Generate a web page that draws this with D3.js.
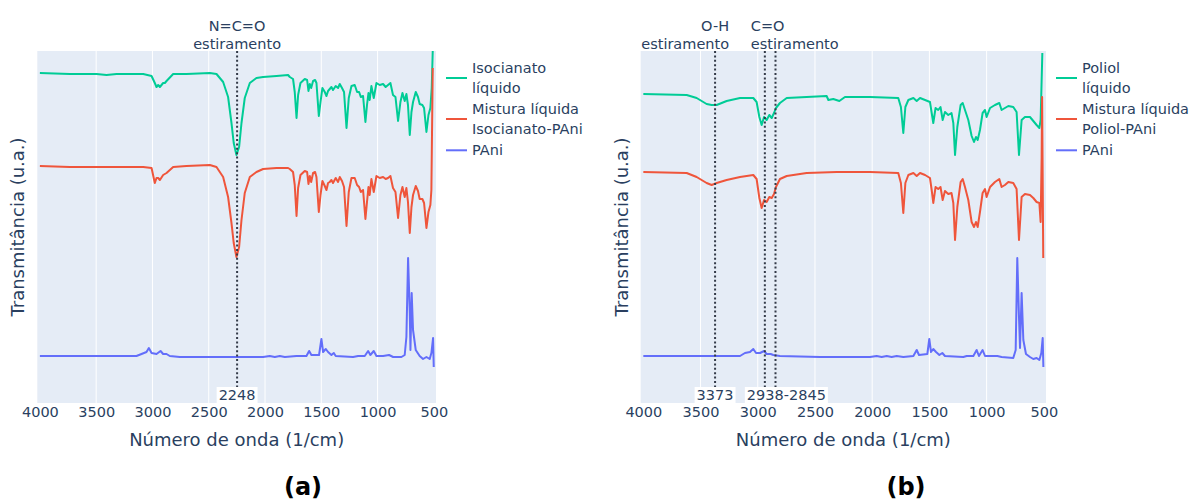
<!DOCTYPE html>
<html>
<head>
<meta charset="utf-8">
<script src="https://cdn.jsdelivr.net/npm/d3@7"></script>
<style>
  html, body { margin: 0; padding: 0; background: #fff; }
  svg { display: block; }
</style>
</head>
<body>
<svg id="chart" width="1190" height="503"></svg>
<script>
// FTIR spectra: wavenumber (1/cm) and transmittance (arbitrary units, stacked offsets)

// (a) Isocyanate system
const isoLiquid = [
  [4000,3.30],[3734,3.29],[3497,3.29],[3408,3.28],[3319,3.29],[3082,3.29],[3008,3.27],[2979,3.20],
  [2964,3.16],[2949,3.18],[2934,3.16],[2905,3.20],[2890,3.20],[2875,3.22],[2816,3.29],[2698,3.29],
  [2490,3.30],[2431,3.29],[2372,3.21],[2328,3.06],[2298,2.80],[2278,2.60],[2254,2.48],[2230,2.56],
  [2209,2.80],[2180,3.05],[2135,3.20],[2076,3.25],[2017,3.26],[1898,3.27],[1795,3.28],[1780,3.26],
  [1751,3.24],[1736,3.11],[1720,2.85],[1706,3.08],[1685,3.20],[1647,3.24],[1626,3.23],[1614,3.12],
  [1602,3.19],[1590,3.15],[1573,3.22],[1555,3.23],[1543,3.20],[1522,2.87],[1507,3.01],[1490,3.15],
  [1469,3.11],[1454,3.07],[1440,3.12],[1425,3.14],[1410,3.16],[1396,3.13],[1372,3.17],[1351,3.15],
  [1336,3.19],[1316,3.15],[1298,3.11],[1276,2.75],[1256,3.05],[1232,3.17],[1203,3.18],[1182,3.11],
  [1164,3.11],[1149,3.06],[1129,3.07],[1108,2.81],[1094,2.98],[1081,3.10],[1070,3.03],[1055,3.17],
  [1034,3.05],[1010,3.20],[981,3.18],[951,3.19],[928,3.16],[907,3.18],[886,3.20],[863,3.08],
  [841,3.06],[818,2.82],[797,3.01],[779,3.10],[759,3.02],[744,3.09],[730,2.98],[714,2.68],
  [699,2.91],[685,3.01],[661,3.11],[641,3.06],[626,2.99],[602,2.98],[587,2.95],[566,2.71],
  [548,2.88],[531,2.95],[519,3.15],[510,3.52]
];
const isoMix = [
  [4000,2.37],[3734,2.36],[3408,2.36],[3082,2.36],[3008,2.35],[2979,2.20],[2964,2.25],[2949,2.25],
  [2934,2.23],[2905,2.28],[2875,2.30],[2816,2.36],[2698,2.37],[2490,2.38],[2431,2.36],[2372,2.26],
  [2328,2.06],[2298,1.80],[2278,1.60],[2254,1.46],[2230,1.56],[2209,1.83],[2180,2.10],[2135,2.26],
  [2076,2.31],[2017,2.34],[1898,2.35],[1795,2.35],[1780,2.34],[1751,2.31],[1736,2.18],[1720,1.87],
  [1706,2.15],[1685,2.28],[1647,2.32],[1626,2.31],[1614,2.19],[1602,2.27],[1590,2.21],[1573,2.30],
  [1555,2.31],[1543,2.26],[1522,1.91],[1507,2.08],[1490,2.22],[1469,2.17],[1454,2.13],[1440,2.20],
  [1425,2.21],[1410,2.23],[1396,2.20],[1372,2.25],[1351,2.21],[1336,2.26],[1316,2.22],[1298,2.16],
  [1276,1.77],[1256,2.11],[1232,2.25],[1203,2.25],[1182,2.18],[1164,2.16],[1149,2.11],[1129,2.13],
  [1108,1.84],[1094,2.01],[1081,2.16],[1070,2.08],[1055,2.24],[1034,2.11],[1010,2.27],[981,2.25],
  [951,2.26],[928,2.24],[907,2.25],[886,2.27],[863,2.15],[841,2.11],[818,1.85],[797,2.08],
  [779,2.16],[759,2.06],[744,2.15],[730,2.01],[714,1.70],[699,1.96],[685,2.08],[661,2.17],
  [641,2.12],[626,2.04],[602,2.04],[587,2.00],[566,1.75],[548,1.91],[531,1.98],[522,2.13],[510,3.35]
];
const paniA = [
  [4000,0.47],[3645,0.47],[3142,0.47],[3097,0.49],[3053,0.51],[3032,0.55],[3008,0.50],[2964,0.49],
  [2928,0.52],[2905,0.49],[2875,0.49],[2846,0.47],[2757,0.46],[2461,0.46],[2017,0.46],[1958,0.47],
  [1913,0.46],[1869,0.47],[1824,0.46],[1721,0.47],[1632,0.47],[1608,0.52],[1588,0.48],[1520,0.48],
  [1499,0.64],[1484,0.51],[1469,0.53],[1460,0.54],[1440,0.51],[1410,0.48],[1389,0.50],[1372,0.47],
  [1218,0.46],[1173,0.47],[1114,0.47],[1084,0.52],[1064,0.48],[1034,0.52],[1010,0.47],[951,0.47],
  [898,0.48],[862,0.46],[788,0.46],[759,0.48],[744,0.66],[729,1.45],[714,0.90],[708,0.53],
  [697,1.10],[685,0.73],[661,0.53],[626,0.47],[596,0.44],[566,0.46],[537,0.44],[522,0.50],
  [507,0.65],[501,0.36]
];

// (b) Polyol system
const polyolLiquid = [
  [4000,3.09],[3621,3.08],[3534,3.05],[3447,2.99],[3403,2.98],[3359,2.98],[3272,3.02],[3155,3.05],
  [3039,3.05],[3010,3.01],[2986,2.86],[2966,2.78],[2945,2.86],[2922,2.83],[2899,2.88],[2878,2.85],
  [2858,2.90],[2841,2.95],[2806,3.00],[2747,3.05],[2573,3.06],[2398,3.07],[2383,3.03],[2340,3.04],
  [2287,3.02],[2238,3.06],[2019,3.06],[1772,3.05],[1749,2.96],[1728,2.70],[1710,2.96],[1684,3.03],
  [1640,3.05],[1611,3.02],[1582,3.05],[1538,3.03],[1495,3.01],[1480,2.90],[1466,2.80],[1446,2.95],
  [1423,2.93],[1403,2.96],[1384,2.83],[1364,2.91],[1335,2.88],[1307,2.90],[1291,2.80],[1276,2.48],
  [1256,2.76],[1227,2.98],[1209,3.00],[1189,2.93],[1160,2.83],[1131,2.67],[1110,2.61],[1093,2.66],
  [1078,2.63],[1058,2.73],[1035,2.90],[1014,2.93],[1000,2.86],[970,2.95],[927,2.98],[889,3.00],
  [869,2.93],[840,2.95],[810,2.97],[767,2.96],[738,2.91],[717,2.48],[694,2.83],[665,2.86],
  [621,2.86],[592,2.82],[563,2.78],[539,2.75],[528,2.83],[513,3.50]
];
const polyolMix = [
  [4000,2.31],[3621,2.30],[3534,2.26],[3447,2.20],[3403,2.18],[3359,2.20],[3272,2.23],[3155,2.26],
  [3039,2.28],[3010,2.24],[2986,2.05],[2966,1.95],[2945,2.03],[2922,2.01],[2899,2.06],[2878,2.05],
  [2858,2.09],[2841,2.16],[2806,2.24],[2747,2.27],[2573,2.30],[2311,2.31],[2019,2.31],[1772,2.30],
  [1749,2.20],[1728,1.90],[1710,2.20],[1684,2.28],[1640,2.30],[1611,2.27],[1582,2.30],[1538,2.28],
  [1495,2.25],[1480,2.13],[1466,2.00],[1446,2.16],[1423,2.14],[1403,2.16],[1384,2.03],[1364,2.12],
  [1335,2.09],[1307,2.10],[1291,2.00],[1276,1.63],[1256,1.96],[1227,2.21],[1209,2.24],[1189,2.16],
  [1160,2.03],[1131,1.81],[1110,1.76],[1093,1.81],[1078,1.76],[1058,1.91],[1035,2.10],[1014,2.14],
  [1000,2.06],[970,2.16],[927,2.21],[889,2.24],[869,2.16],[840,2.18],[810,2.21],[767,2.20],
  [738,2.14],[717,1.63],[694,2.06],[665,2.09],[621,2.08],[592,2.05],[563,2.01],[539,2.00],
  [528,1.81],[519,2.46],[515,3.06],[505,1.45]
];
const paniB = [
  [4000,0.47],[3621,0.47],[3155,0.47],[3112,0.50],[3068,0.51],[3039,0.54],[3015,0.50],[2980,0.50],
  [2945,0.52],[2922,0.49],[2887,0.49],[2864,0.48],[2806,0.47],[2456,0.46],[2019,0.46],[1961,0.47],
  [1917,0.46],[1873,0.47],[1830,0.46],[1786,0.47],[1728,0.46],[1640,0.47],[1611,0.53],[1591,0.48],
  [1518,0.49],[1501,0.64],[1486,0.51],[1466,0.54],[1442,0.51],[1413,0.48],[1387,0.50],[1364,0.47],
  [1204,0.46],[1174,0.47],[1116,0.47],[1087,0.53],[1067,0.47],[1035,0.53],[1014,0.47],[956,0.47],
  [906,0.47],[869,0.46],[767,0.45],[746,0.53],[732,1.45],[717,0.86],[708,0.55],[694,1.10],
  [679,0.63],[656,0.49],[621,0.46],[592,0.44],[563,0.45],[539,0.43],[522,0.50],[510,0.65],[504,0.36]
];

// Axis ticks and annotations
const xTicks = [4000, 3500, 3000, 2500, 2000, 1500, 1000, 500];
const xDomain = [4023, 481];
const yDomain = [0, 3.52];
const legendA = [["Isocianato", "líquido"], ["Mistura líquida", "Isocianato-PAni"], ["PAni"]];
const legendB = [["Poliol", "líquido"], ["Mistura líquida", "Poliol-PAni"], ["PAni"]];
const bandsA = [2248];
const bandsB = [3373, 2938, 2845];

const COLORS = ["#00cc96", "#EF553B", "#636efa"];
const FONT = "'DejaVu Sans', Verdana, sans-serif";
const INK = "#2a3f5f";

const panels = [
  {
    id: "a", x0: 37.3, x1: 436, series: [isoLiquid, isoMix, paniA], legend: legendA, legendX: 446,
    bands: bandsA, letterX: 303,
    topLabels: [{ wn: 2248, lines: ["N=C=O", "estiramento"], anchor: "middle", dx: 0 }],
    bottomLabels: [{ wn: 2248, text: "2248", anchor: "middle", dx: 0 }]
  },
  {
    id: "b", x0: 640.7, x1: 1046, series: [polyolLiquid, polyolMix, paniB], legend: legendB, legendX: 1056,
    bands: bandsB, letterX: 906,
    topLabels: [
      { wn: 3373, lines: ["O-H", "estiramento"], anchor: "end", dx: 14 },
      { wn: 2938, lines: ["C=O", "estiramento"], anchor: "start", dx: -14 }
    ],
    bottomLabels: [
      { wn: 3373, text: "3373", anchor: "middle", dx: 0 },
      { wn: 2938, text: "2938-2845", anchor: "start", dx: -18 }
    ]
  }
];

const TOP = 51, BOTTOM = 403;
const svg = d3.select("#chart");

panels.forEach(p => {
  const x = d3.scaleLinear().domain(xDomain).range([p.x0, p.x1]);
  const y = d3.scaleLinear().domain(yDomain).range([BOTTOM, TOP]);
  const g = svg.append("g");

  // plot background
  g.append("rect")
    .attr("x", p.x0).attr("y", TOP)
    .attr("width", p.x1 - p.x0).attr("height", BOTTOM - TOP)
    .attr("fill", "#E5ECF6");

  // vertical grid (interior ticks only)
  g.selectAll("line.grid")
    .data(xTicks.filter(t => t !== 4000 && t !== 500))
    .join("line")
    .attr("x1", d => x(d)).attr("x2", d => x(d))
    .attr("y1", TOP).attr("y2", BOTTOM)
    .attr("stroke", "#fff").attr("stroke-width", 1);

  // clip region for the spectra
  const clipId = "clip-" + p.id;
  svg.append("clipPath").attr("id", clipId)
    .append("rect")
    .attr("x", p.x0).attr("y", TOP)
    .attr("width", p.x1 - p.x0).attr("height", BOTTOM - TOP);

  const line = d3.line().x(d => x(d[0])).y(d => y(d[1]));
  p.series.forEach((s, i) => {
    g.append("path")
      .datum(s)
      .attr("clip-path", `url(#${clipId})`)
      .attr("d", line)
      .attr("fill", "none")
      .attr("stroke", COLORS[i])
      .attr("stroke-width", 2)
      .attr("stroke-linejoin", "round");
  });

  // marked absorption bands
  g.selectAll("line.band")
    .data(p.bands)
    .join("line")
    .attr("x1", d => x(d)).attr("x2", d => x(d))
    .attr("y1", TOP).attr("y2", BOTTOM)
    .attr("stroke", "#333a48")
    .attr("stroke-width", 2)
    .attr("stroke-dasharray", "2,2.4");

  // band labels above the plot
  p.topLabels.forEach(l => {
    const t = g.append("text")
      .attr("x", x(l.wn) + l.dx)
      .attr("text-anchor", l.anchor)
      .attr("font-family", FONT).attr("font-size", 14.5).attr("fill", INK);
    l.lines.forEach((ln, k) => {
      t.append("tspan").attr("x", x(l.wn) + l.dx).attr("y", 30.5 + k * 18.5).text(ln);
    });
  });

  // wavenumber labels on white boxes at the bottom of the plot
  p.bottomLabels.forEach(l => {
    const t = g.append("text")
      .attr("x", x(l.wn) + l.dx)
      .attr("y", 400)
      .attr("text-anchor", l.anchor)
      .attr("font-family", FONT).attr("font-size", 14.5).attr("fill", INK)
      .text(l.text);
    const bb = t.node().getBBox();
    g.insert("rect", () => t.node())
      .attr("x", bb.x - 2).attr("y", 387)
      .attr("width", bb.width + 4).attr("height", 16)
      .attr("fill", "#fff");
  });

  // x axis
  const ax = g.append("g")
    .attr("transform", `translate(0,${BOTTOM})`)
    .call(d3.axisBottom(x).tickValues(xTicks).tickSize(0).tickPadding(4).tickFormat(d3.format("d")));
  ax.select(".domain").remove();
  ax.selectAll("text")
    .attr("font-family", FONT).attr("font-size", 14.5).attr("fill", INK);

  // axis titles
  g.append("text")
    .attr("x", (p.x0 + p.x1) / 2).attr("y", 446)
    .attr("text-anchor", "middle")
    .attr("font-family", FONT).attr("font-size", 18).attr("fill", INK)
    .text("Número de onda (1/cm)");
  g.append("text")
    .attr("transform", `translate(${p.x0 - 13},${(TOP + BOTTOM) / 2}) rotate(-90)`)
    .attr("text-anchor", "middle")
    .attr("font-family", FONT).attr("font-size", 18).attr("fill", INK)
    .text("Transmitância (u.a.)");

  // legend
  let ly = 68.3;
  const rowH = 19.4, gap = 2.2;
  p.legend.forEach((lines, i) => {
    const mid = ly + (lines.length - 1) * rowH / 2;
    g.append("line")
      .attr("x1", p.legendX).attr("x2", p.legendX + 21)
      .attr("y1", mid).attr("y2", mid)
      .attr("stroke", COLORS[i]).attr("stroke-width", 2);
    lines.forEach((ln, k) => {
      g.append("text")
        .attr("x", p.legendX + 26).attr("y", ly + k * rowH)
        .attr("dy", "0.35em")
        .attr("font-family", FONT).attr("font-size", 14.5).attr("fill", INK)
        .text(ln);
    });
    ly += lines.length * rowH + gap;
  });

  // panel letter
  svg.append("text")
    .attr("x", p.letterX).attr("y", 495)
    .attr("text-anchor", "middle")
    .attr("font-family", FONT).attr("font-size", 24).attr("font-weight", "bold").attr("fill", "#000")
    .text(`(${p.id})`);
});
</script>
</body>
</html>
